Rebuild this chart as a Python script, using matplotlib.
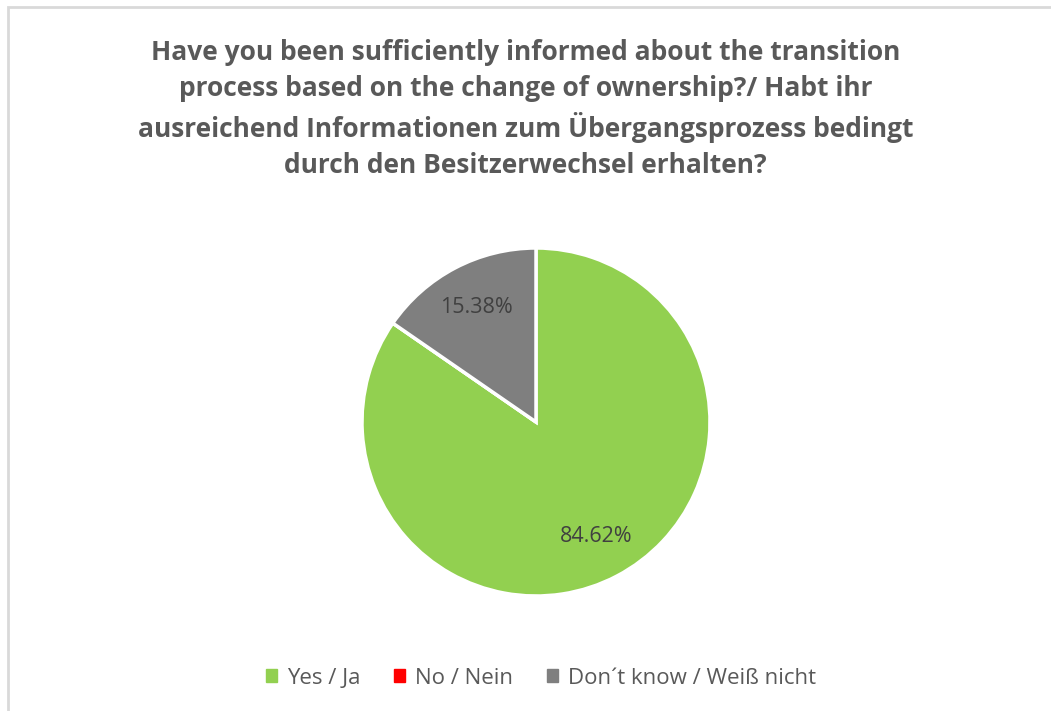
import matplotlib.pyplot as plt
from matplotlib.patches import Rectangle

labels = ["Yes / Ja", "No / Nein", "Don\u00b4t know / Wei\u00df nicht"]
values = [84.62, 0.0, 15.38]
colors = ["#92d050", "#ff0000", "#7f7f7f"]
title = ("Have you been sufficiently informed about the transition\n"
         "process based on the change of ownership?/ Habt ihr\n"
         "ausreichend Informationen zum \u00dcbergangsprozess bedingt\n"
         "durch den Besitzerwechsel erhalten?")

plt.rcParams['font.family'] = ['Open Sans', 'DejaVu Sans']

fig = plt.figure(figsize=(10.51, 7.11), dpi=100)

# chart border (only top and left visible in the reference)
fig.patches.append(Rectangle((8 / 1051, -0.05), 1.1, (711 - 7) / 711 + 0.05,
                             transform=fig.transFigure, fill=False,
                             edgecolor="#d9d9d9", linewidth=2))

fig.text(0.5, 1 - 39 / 711, title, ha="center", va="top", fontsize=19,
         fontweight="bold", color="#595959", linespacing=1.42)

r = 174
cx, cy = 536, 422
ax = fig.add_axes([(cx - r) / 1051, (711 - cy - r) / 711, 2 * r / 1051, 2 * r / 711])

def fmt(p):
    return f"{p:.2f}%" if p > 0 else ""

wedges, texts, autotexts = ax.pie(
    values, colors=colors, startangle=90, counterclock=False,
    autopct=fmt, pctdistance=0.74,
    wedgeprops=dict(edgecolor="white", linewidth=2.5),
    textprops=dict(color="#404040", fontsize=15.5))
ax.set_xlim(-1, 1)
ax.set_ylim(-1, 1)
ax.set_aspect("equal")

handles = [Rectangle((0, 0), 1, 1, color=c) for c in colors]
fig.legend(handles, labels, loc="center", bbox_to_anchor=(541 / 1051, 1 - 678 / 711),
           ncol=3, frameon=False, fontsize=16, labelcolor="#595959",
           handlelength=0.5, handleheight=0.5, handletextpad=0.45, columnspacing=1.5)

fig.savefig("out.png", dpi=100, facecolor="white")
